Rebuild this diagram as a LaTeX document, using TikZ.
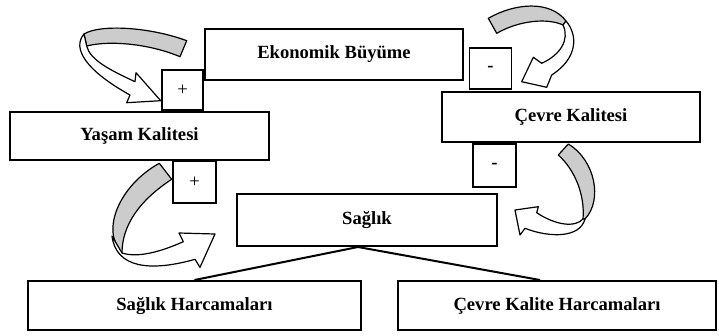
\documentclass[tikz,border=0pt]{standalone}
\usepackage{fontspec}
\setmainfont{Liberation Serif}

\begin{document}
\begin{tikzpicture}[x=1pt, y=-1pt,
  kutu/.style={draw, line width=2pt, inner sep=0pt, font=\fontsize{18.6}{22}\selectfont\bfseries},
  isaret/.style={draw, line width=1.8pt, inner sep=0pt, minimum width=42pt, minimum height=41pt, font=\fontsize{18.6}{22}\selectfont},
  ok/.style={draw, line width=1.2pt, line join=round, fill=white},
  okarka/.style={draw, line width=1.2pt, line join=round, fill=black!20},
  baglanti/.style={line width=2pt}]
  \useasboundingbox (0,0) rectangle (719,335);

  \draw[okarka] (186.7,40.7) .. controls (150,27) and (100,24) .. (84,34) -- (86.7,46) .. controls (110,40) and (150,44) .. (180,56.7) -- cycle;
  \draw[ok] (84,34) .. controls (72,48) and (85,70) .. (130,95) -- (126.7,102.7) -- (160.7,100.7) -- (136,72.7) -- (135,81.7) .. controls (110,70) and (90,60) .. (86.7,46) -- cycle;

  \draw[okarka] (488.3,18.3) .. controls (515,3) and (550,0) .. (566,21) -- (563,25) .. controls (548,18) and (520,20) .. (496.7,33.3) -- cycle;
  \draw[ok] (566,21) .. controls (578,35) and (578,58) .. (551.7,75) -- (546.7,87.3) -- (521.7,81.7) -- (533.3,57.3) -- (541.7,63.3) .. controls (560,55) and (570,40) .. (563,25) -- cycle;

  \draw[okarka] (159.3,163.3) .. controls (120,185) and (100,230) .. (122,253) .. controls (122,225) and (140,200) .. (171.7,179.3) -- cycle;
  \draw[ok] (112,236) .. controls (116,268) and (150,272) .. (195,259.3) -- (200,267.3) -- (215,234) -- (179,233) -- (183.3,241.7) .. controls (160,252) and (138,258) .. (122,253) -- cycle;

  \draw[okarka] (568.3,144) .. controls (595,160) and (603,200) .. (585,219) -- (583,219) .. controls (585,195) and (575,170) .. (558.3,155) -- cycle;
  \draw[ok] (585,219) .. controls (580,238) and (550,238) .. (525,228.3) -- (520,235) -- (515,210) -- (538.3,206.7) -- (536.7,212.7) .. controls (555,225) and (575,228) .. (583,219) -- cycle;

  \node[kutu, minimum width=258pt, minimum height=51pt] (ekonomi) at (334,54.5) {Ekonomik Büyüme};
  \node[kutu, minimum width=259pt, minimum height=48pt] (yasam) at (139.5,136) {Yaşam Kalitesi};
  \node[kutu, minimum width=258pt, minimum height=50pt] (cevre) at (571,117) {Çevre Kalitesi};
  \node[kutu, minimum width=260pt, minimum height=52pt] (saglik) at (367,220) {Sağlık};
  \node[kutu, minimum width=333pt, minimum height=49pt] (sharcama) at (194.5,305.5) {Sağlık Harcamaları};
  \node[kutu, minimum width=318pt, minimum height=49pt] (charcama) at (557,305.5) {Çevre Kalite Harcamaları};

  \node[isaret, minimum width=41pt, minimum height=40pt] (arti1) at (182.5,90) {+};
  \node[isaret, minimum width=43pt, minimum height=42pt] (arti2) at (194.5,182) {+};
  \node[isaret, font=\fontsize{18.6}{22}\selectfont\bfseries] (eksi1) at (490.5,68.5) {-};
  \node[isaret, minimum width=43pt, minimum height=43pt, font=\fontsize{18.6}{22}\selectfont\bfseries] (eksi2) at (494.5,165.5) {-};

  \coordinate (kavsak) at ([xshift=-9pt]saglik.south);
  \draw[baglanti] (kavsak) -- (sharcama.north);
  \draw[baglanti] (kavsak) -- ([xshift=-17pt]charcama.north);
\end{tikzpicture}
\end{document}
